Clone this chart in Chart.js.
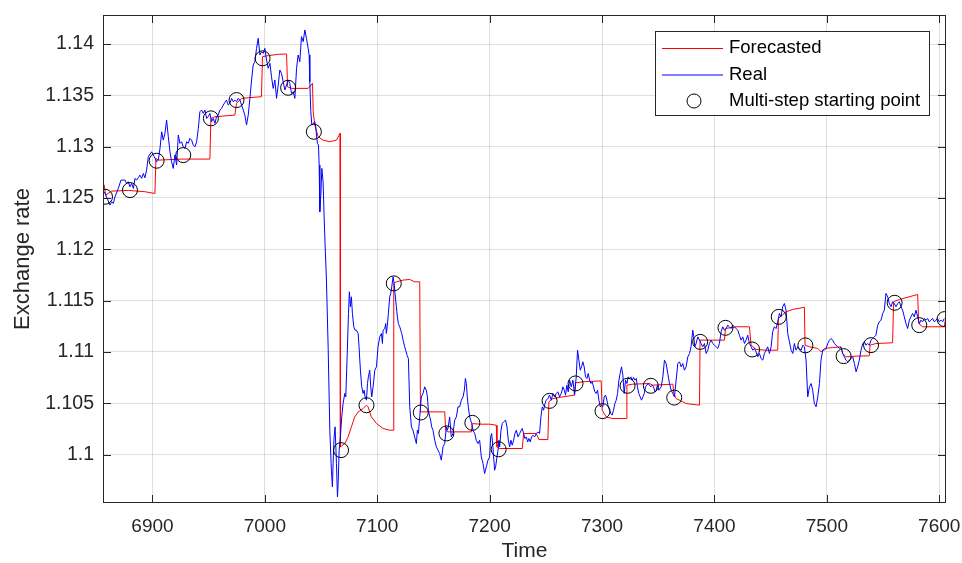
<!DOCTYPE html>
<html>
<head>
<meta charset="utf-8">
<script src="https://cdn.jsdelivr.net/npm/chart.js@4.4.1/dist/chart.umd.min.js"></script>
<style>
  html, body { margin: 0; padding: 0; background: #fff; }
  #wrap { width: 962px; height: 563px; }
</style>
</head>
<body>
<div id="wrap"><canvas id="chart" width="962" height="563"></canvas></div>
<script>
// axis ticks
const timeTicks = [6900, 7000, 7100, 7200, 7300, 7400, 7500, 7600];
const rateTicks = [1.1, 1.105, 1.11, 1.115, 1.12, 1.125, 1.13, 1.135, 1.14];

// real series (time, rate)
const realTime = [
  6857.2,6862.2,6863.7,6865.2,6866.7,6869.6,6872.0,6875.6,6877.0,6878.5,6880.0,6881.5,6883.0,6884.5,6885.9,6887.4,
  6888.9,6890.4,6891.9,6893.3,6894.8,6896.3,6899.3,6901.6,6903.7,6905.2,6906.7,6908.2,6909.6,6911.1,6912.6,6914.1,
  6915.6,6917.0,6918.5,6920.0,6921.5,6923.0,6924.5,6925.9,6927.4,6928.9,6930.4,6931.9,6933.3,6934.8,6936.3,6937.8,
  6939.3,6940.8,6942.2,6943.7,6945.2,6946.7,6948.2,6949.6,6951.1,6952.6,6954.1,6955.6,6957.0,6958.5,6960.0,6961.5,
  6963.0,6964.5,6965.9,6967.4,6968.9,6970.4,6971.9,6973.3,6974.8,6976.3,6977.8,6979.3,6980.8,6982.2,6983.7,6985.2,
  6986.7,6988.2,6989.6,6991.1,6992.6,6994.1,6995.6,6997.0,6998.5,7000.0,7001.5,7003.0,7004.5,7005.9,7007.4,7008.9,
  7010.4,7011.9,7013.3,7014.8,7016.3,7017.8,7019.3,7020.7,7022.2,7023.7,7025.2,7026.7,7028.2,7029.6,7031.1,7032.6,
  7034.1,7035.6,7037.0,7038.5,7039.4,7040.0,7040.9,7041.8,7042.9,7044.4,7045.3,7045.9,7046.8,7047.7,7048.3,7048.9,
  7049.8,7050.7,7051.8,7052.7,7053.6,7054.8,7056.3,7057.8,7059.2,7060.1,7060.7,7061.6,7062.5,7063.7,7064.6,7065.2,
  7066.1,7067.2,7068.4,7069.6,7071.1,7072.0,7073.2,7074.4,7075.2,7076.1,7077.0,7077.9,7079.1,7080.3,7081.5,7083.0,
  7083.8,7085.0,7086.2,7087.4,7088.3,7089.2,7090.4,7091.3,7092.1,7093.3,7094.2,7095.1,7096.3,7097.8,7099.3,7100.7,
  7102.2,7103.7,7104.6,7105.2,7106.7,7107.5,7108.1,7109.0,7109.9,7111.1,7112.0,7112.9,7114.1,7115.0,7115.8,7117.0,
  7117.9,7118.8,7120.0,7120.9,7121.8,7123.0,7124.4,7125.3,7126.5,7127.7,7128.9,7130.4,7131.8,7133.3,7134.8,7135.7,
  7136.6,7137.8,7139.2,7140.7,7142.2,7143.7,7144.6,7145.5,7146.7,7147.5,7148.4,7149.6,7151.1,7152.6,7154.1,7155.5,
  7157.0,7158.5,7160.0,7161.5,7162.4,7163.2,7164.4,7165.9,7167.4,7168.9,7170.4,7171.8,7173.3,7174.8,7176.3,7177.5,
  7178.4,7179.3,7180.1,7181.0,7182.2,7183.1,7184.0,7185.2,7186.7,7188.1,7189.6,7191.1,7192.6,7194.1,7195.5,7197.0,
  7198.5,7200.0,7200.9,7201.8,7202.9,7204.4,7205.3,7206.5,7207.4,7208.3,7208.9,7210.1,7211.2,7212.4,7214.2,7215.4,
  7216.6,7217.8,7218.9,7220.1,7221.3,7222.5,7223.7,7225.2,7226.7,7228.1,7229.0,7230.2,7231.4,7232.6,7233.8,7234.9,
  7236.1,7237.3,7238.5,7240.0,7241.5,7242.9,7244.4,7245.6,7246.8,7248.0,7249.2,7250.4,7251.8,7253.3,7254.8,7256.3,
  7257.8,7259.2,7260.7,7262.2,7263.7,7265.2,7266.4,7267.5,7268.7,7269.9,7271.1,7272.6,7274.1,7275.5,7277.0,7278.2,
  7279.4,7280.6,7281.8,7282.9,7284.1,7285.3,7286.5,7287.7,7288.9,7290.1,7291.3,7292.4,7293.6,7294.8,7296.0,7297.2,
  7298.4,7299.5,7300.7,7301.9,7303.1,7304.3,7305.5,7306.7,7307.8,7309.0,7310.2,7311.4,7312.6,7313.8,7315.0,7316.1,
  7317.3,7318.5,7319.7,7320.9,7322.1,7323.3,7324.4,7325.6,7326.8,7328.0,7329.2,7330.4,7331.5,7332.7,7333.9,7335.1,
  7336.3,7337.5,7338.7,7339.8,7341.0,7342.2,7343.4,7344.6,7345.8,7347.0,7348.1,7349.3,7350.5,7352.6,7354.1,7355.5,
  7357.0,7358.5,7360.0,7361.5,7362.9,7364.4,7365.9,7367.4,7368.9,7370.4,7371.8,7373.3,7374.8,7376.3,7377.8,7379.2,
  7380.7,7381.6,7382.5,7383.7,7385.2,7386.7,7388.1,7389.6,7391.1,7392.6,7394.1,7395.5,7397.0,7398.5,7400.0,7401.5,
  7403.0,7404.4,7405.9,7407.4,7408.9,7410.4,7411.8,7413.3,7414.8,7416.3,7417.8,7419.3,7420.7,7422.2,7423.7,7425.2,
  7426.7,7428.1,7429.6,7431.1,7432.6,7434.1,7435.5,7437.0,7438.5,7440.0,7441.5,7443.0,7444.4,7445.9,7447.4,7448.9,
  7450.4,7451.8,7453.3,7454.8,7456.3,7457.8,7459.2,7460.7,7462.2,7463.7,7465.2,7466.7,7468.2,7469.7,7471.1,7472.6,
  7474.1,7475.6,7477.1,7478.6,7480.0,7481.5,7483.0,7484.5,7486.0,7487.4,7488.9,7490.4,7491.9,7493.4,7494.8,7496.3,
  7497.8,7499.3,7500.8,7502.3,7503.7,7505.2,7506.7,7508.2,7509.7,7511.1,7512.6,7514.1,7515.6,7517.1,7518.5,7520.0,
  7521.5,7523.0,7524.5,7526.0,7527.4,7528.9,7530.4,7531.9,7533.4,7534.8,7536.3,7537.8,7539.3,7540.8,7542.3,7543.7,
  7545.2,7546.7,7548.2,7549.7,7551.1,7552.6,7554.1,7555.6,7557.1,7558.5,7560.0,7561.5,7563.0,7564.5,7566.0,7567.4,
  7568.9,7570.4,7571.9,7573.4,7574.8,7576.3,7577.8,7579.3,7580.8,7582.3,7583.7,7585.2,7586.7,7588.2,7589.7,7591.1,
  7592.6,7594.1,7595.6,7597.1,7598.5,7600.0,7601.5,7603.0,7604.5
];
const realRate = [
  1.12561,1.12431,1.12463,1.12447,1.12512,1.12593,1.12674,1.12674,1.12642,1.12658,1.12609,1.12642,1.12593,1.12691,1.12674,1.12697,
  1.12723,1.12691,1.12739,1.12697,1.12772,1.12902,1.12950,1.12902,1.12853,1.12869,1.12983,1.13145,1.13064,1.13129,1.13259,1.13097,
  1.12950,1.12853,1.12788,1.12918,1.12821,1.13113,1.13032,1.13048,1.12999,1.12983,1.13048,1.13032,1.13081,1.13064,1.13016,1.12999,
  1.13048,1.13178,1.13340,1.13357,1.13324,1.13357,1.13275,1.13292,1.13324,1.13243,1.13275,1.13227,1.13292,1.13308,1.13357,1.13373,
  1.13406,1.13432,1.13454,1.13406,1.13422,1.13471,1.13438,1.13454,1.13438,1.13471,1.13454,1.13406,1.13357,1.13308,1.13211,1.13308,
  1.13471,1.13649,1.13796,1.13828,1.13958,1.14056,1.13893,1.13926,1.13909,1.13958,1.13844,1.13763,1.13812,1.13682,1.13568,1.13649,
  1.13471,1.13601,1.13747,1.13714,1.13633,1.13552,1.13601,1.13649,1.13617,1.13519,1.13536,1.13471,1.13763,1.13893,1.13828,1.14072,
  1.14023,1.14137,1.14056,1.13958,1.13893,1.13633,1.13341,1.13211,1.13227,1.13243,1.13194,1.13113,1.13032,1.13016,1.12821,1.12366,
  1.12528,1.12788,1.12658,1.12333,1.12041,1.11700,1.11050,1.10237,1.09847,1.09685,1.09912,1.10172,1.10270,1.09912,1.09587,1.09717,
  1.10042,1.10172,1.10367,1.10497,1.10595,1.10562,1.10952,1.11375,1.11586,1.11440,1.11537,1.11375,1.11245,1.11212,1.11212,1.11180,
  1.11050,1.10822,1.10660,1.10595,1.10627,1.10562,1.10530,1.10692,1.10757,1.10822,1.10660,1.10562,1.10660,1.10822,1.10855,1.11050,
  1.11147,1.11180,1.11082,1.11212,1.11228,1.11277,1.11180,1.11261,1.11375,1.11537,1.11570,1.11635,1.11732,1.11667,1.11570,1.11440,
  1.11342,1.11277,1.11245,1.11212,1.11180,1.11115,1.11050,1.11017,1.10968,1.10936,1.10465,1.10270,1.10237,1.10172,1.10107,1.10237,
  1.10205,1.10367,1.10562,1.10595,1.10660,1.10627,1.10562,1.10432,1.10367,1.10335,1.10270,1.10237,1.10140,1.10075,1.10042,1.10010,
  1.09945,1.10075,1.10107,1.10270,1.10237,1.10270,1.10367,1.10172,1.10205,1.10335,1.10367,1.10465,1.10465,1.10530,1.10562,1.10627,
  1.10741,1.10692,1.10562,1.10465,1.10367,1.10335,1.10302,1.10237,1.10205,1.10140,1.10107,1.10140,1.09977,1.09912,1.09815,1.09880,
  1.09945,1.09977,1.10172,1.10205,1.10075,1.09847,1.09880,1.09977,1.10042,1.10140,1.10075,1.10237,1.10302,1.10318,1.10335,1.10270,
  1.10140,1.10075,1.10140,1.10091,1.10140,1.10205,1.10237,1.10172,1.10205,1.10237,1.10254,1.10205,1.10156,1.10172,1.10123,1.10156,
  1.10123,1.10172,1.10189,1.10172,1.10205,1.10221,1.10205,1.10367,1.10465,1.10432,1.10497,1.10530,1.10546,1.10579,1.10530,1.10595,
  1.10562,1.10595,1.10611,1.10562,1.10595,1.10660,1.10627,1.10579,1.10676,1.10611,1.10725,1.10660,1.10725,1.10579,1.10757,1.11017,
  1.10920,1.10822,1.10855,1.10904,1.10855,1.10757,1.10741,1.10790,1.10725,1.10692,1.10709,1.10660,1.10611,1.10595,1.10627,1.10530,
  1.10465,1.10481,1.10465,1.10562,1.10579,1.10530,1.10465,1.10432,1.10400,1.10384,1.10432,1.10497,1.10530,1.10595,1.10725,1.10790,
  1.10855,1.10774,1.10595,1.10725,1.10692,1.10757,1.10741,1.10757,1.10725,1.10751,1.10725,1.10741,1.10660,1.10595,1.10562,1.10530,
  1.10562,1.10595,1.10660,1.10676,1.10692,1.10676,1.10660,1.10676,1.10660,1.10611,1.10627,1.10676,1.10627,1.10660,1.10757,1.10920,
  1.10887,1.10790,1.10692,1.10627,1.10595,1.10562,1.10725,1.10887,1.10904,1.10855,1.10887,1.10822,1.10855,1.10952,1.10985,1.11050,
  1.11212,1.11147,1.11050,1.11082,1.11147,1.11115,1.11082,1.11050,1.11082,1.10985,1.11017,1.11082,1.11115,1.11082,1.11066,1.11050,
  1.11034,1.11082,1.11196,1.11245,1.11212,1.11228,1.11261,1.11245,1.11228,1.11261,1.11245,1.11228,1.11212,1.11163,1.11115,1.11147,
  1.11082,1.11115,1.11163,1.11082,1.11050,1.11017,1.11034,1.11001,1.10952,1.10985,1.10936,1.10920,1.10985,1.11017,1.11050,1.10985,
  1.11050,1.11196,1.11245,1.11228,1.11293,1.11375,1.11342,1.11440,1.11472,1.11407,1.11180,1.11098,1.11017,1.10985,1.11082,1.11017,
  1.11050,1.11034,1.11017,1.11066,1.11050,1.10920,1.10562,1.10660,1.10692,1.10627,1.10497,1.10465,1.10562,1.10692,1.10920,1.11017,
  1.11017,1.11034,1.11082,1.11115,1.11131,1.11115,1.11082,1.11066,1.11050,1.11034,1.11043,1.10985,1.10952,1.10920,1.10904,1.10920,
  1.10936,1.10952,1.10887,1.10806,1.10855,1.10920,1.11017,1.11082,1.11098,1.11066,1.11082,1.11066,1.11115,1.11131,1.11147,1.11163,
  1.11261,1.11293,1.11310,1.11375,1.11407,1.11570,1.11537,1.11472,1.11440,1.11489,1.11472,1.11440,1.11472,1.11489,1.11440,1.11407,
  1.11342,1.11277,1.11228,1.11310,1.11342,1.11375,1.11342,1.11407,1.11342,1.11277,1.11310,1.11293,1.11326,1.11310,1.11326,1.11293,
  1.11310,1.11326,1.11293,1.11310,1.11326,1.11293,1.11310,1.11293,1.11326
];

// forecasted series (time, rate)
const forecastTime = [
  6857.0,6858.4,6863.7,6878.5,6893.3,6902.2,6903.1,6905.2,6925.9,6951.1,6952.0,6955.6,6973.3,6974.8,6979.3,6997.0,
  6997.9,7003.0,7011.9,7019.3,7020.2,7023.7,7038.5,7042.4,7043.0,7044.4,7047.4,7051.8,7057.8,7063.7,7066.1,7066.9,
  7067.2,7071.1,7074.1,7077.0,7080.0,7083.0,7087.4,7090.4,7091.8,7094.8,7099.3,7105.2,7111.1,7114.1,7114.7,7117.0,
  7123.0,7128.9,7133.3,7137.8,7138.4,7143.7,7160.0,7160.9,7162.9,7183.7,7184.6,7191.1,7200.0,7205.9,7206.5,7208.9,
  7229.0,7230.2,7241.5,7243.8,7251.8,7252.7,7256.3,7265.2,7275.5,7276.4,7282.9,7299.2,7300.1,7303.7,7309.6,7321.5,
  7322.1,7327.4,7342.2,7345.2,7363.0,7363.8,7365.9,7374.8,7386.7,7387.2,7395.5,7408.9,7409.8,7419.3,7431.1,7432.6,
  7437.0,7445.9,7456.3,7456.9,7463.7,7469.6,7480.0,7480.6,7484.5,7491.9,7494.8,7497.8,7505.2,7512.6,7514.1,7517.1,
  7526.0,7537.8,7538.4,7543.7,7558.5,7559.4,7564.5,7580.8,7581.7,7585.2,7604.5,7605.4
];
const forecastRate = [
  1.12630,1.12528,1.12567,1.12574,1.12561,1.12544,1.12886,1.12869,1.12879,1.12879,1.13275,1.13292,1.13308,1.13422,1.13471,1.13487,
  1.13877,1.13887,1.13900,1.13903,1.13584,1.13568,1.13568,1.13617,1.13341,1.13211,1.13097,1.13064,1.13048,1.13064,1.13113,1.13130,
  1.10075,1.10107,1.10172,1.10270,1.10367,1.10416,1.10448,1.10481,1.10465,1.10367,1.10302,1.10254,1.10237,1.10237,1.11667,1.11683,
  1.11700,1.11706,1.11683,1.11683,1.10416,1.10416,1.10416,1.10237,1.10221,1.10221,1.10302,1.10296,1.10296,1.10286,1.10075,1.10059,
  1.10059,1.10205,1.10205,1.10146,1.10146,1.10514,1.10546,1.10562,1.10579,1.10699,1.10709,1.10718,1.10432,1.10367,1.10351,1.10351,
  1.10676,1.10686,1.10692,1.10676,1.10686,1.10595,1.10546,1.10497,1.10481,1.11115,1.11115,1.11115,1.11228,1.11245,1.11245,1.11066,
  1.11024,1.11017,1.11017,1.11326,1.11391,1.11414,1.11435,1.11066,1.11050,1.11034,1.11001,1.11034,1.11043,1.11050,1.10985,1.10952,
  1.10959,1.10962,1.11066,1.11082,1.11089,1.11489,1.11511,1.11560,1.11277,1.11245,1.11245,1.11310
];

// multi-step starting points
const startTime = [
  6857.8,6880.0,6903.7,6927.4,6952.0,6974.8,6998.0,7020.7,7043.6,7067.8,7090.4,7114.7,7138.7,7161.5,7184.6,7208.0,
  7253.3,7276.4,7300.4,7322.7,7343.4,7364.2,7387.3,7409.8,7433.5,7457.2,7480.9,7514.9,7539.3,7560.3,7582.2,7604.7
];
const startRate = [
  1.12512,1.12577,1.12863,1.12918,1.13276,1.13454,1.13861,1.13574,1.13145,1.10043,1.10481,1.11668,1.10410,1.10206,1.10309,1.10051,
  1.10523,1.10693,1.10423,1.10670,1.10670,1.10555,1.11098,1.11235,1.11024,1.11342,1.11064,1.10959,1.11066,1.11479,1.11261,1.11320
];

const FONT = "'Liberation Sans', Arial, Helvetica, sans-serif";
const AXIS_COLOR = '#262626';

function pts(xs, ys) {
  return xs.map((x, i) => ({ x: x, y: ys[i] }));
}

// no extra padding for edge labels, keep the plot box fixed
function noPad(s) {
  s.paddingLeft = 0; s.paddingRight = 0;
  s.paddingTop = 0; s.paddingBottom = 0;
}

// box round the axes + inward tick marks (like matlab)
const axesBox = {
  id: 'axesBox',
  afterDatasetsDraw(chart) {
    const { ctx, chartArea: a, scales } = chart;
    const L = 8;
    ctx.save();
    ctx.strokeStyle = AXIS_COLOR;
    ctx.lineWidth = 1;
    ctx.beginPath();
    scales.x.ticks.forEach(t => {
      const px = Math.round(scales.x.getPixelForValue(t.value)) + 0.5;
      ctx.moveTo(px, a.bottom); ctx.lineTo(px, a.bottom - L);
      ctx.moveTo(px, a.top); ctx.lineTo(px, a.top + L);
    });
    scales.y.ticks.forEach(t => {
      const py = Math.round(scales.y.getPixelForValue(t.value)) + 0.5;
      ctx.moveTo(a.left, py); ctx.lineTo(a.left + L, py);
      ctx.moveTo(a.right, py); ctx.lineTo(a.right - L, py);
    });
    ctx.stroke();
    ctx.strokeRect(Math.round(a.left) + 0.5, Math.round(a.top) + 0.5,
                   Math.round(a.right - a.left) - 1, Math.round(a.bottom - a.top) - 1);
    ctx.restore();
  }
};

// legend box top right
const legendBox = {
  id: 'legendBox',
  afterDraw(chart) {
    const ctx = chart.ctx;
    const bx = 655.5, by = 31.5, bw = 274, bh = 84;
    ctx.save();
    ctx.fillStyle = '#fff';
    ctx.fillRect(bx, by, bw, bh);
    ctx.strokeStyle = AXIS_COLOR;
    ctx.lineWidth = 1;
    ctx.strokeRect(bx, by, bw, bh);
    ctx.font = '18.5px ' + FONT;
    ctx.textBaseline = 'middle';
    ctx.textAlign = 'left';
    chart.data.datasets.forEach((ds, i) => {
      const y = 48 + i * 26.5;
      if (ds.showLine === false) {
        ctx.beginPath();
        ctx.arc(694, y, 7, 0, Math.PI * 2);
        ctx.strokeStyle = ds.borderColor;
        ctx.stroke();
      } else {
        ctx.beginPath();
        ctx.moveTo(662, y + 0.5);
        ctx.lineTo(723, y + 0.5);
        ctx.strokeStyle = ds.borderColor;
        ctx.stroke();
      }
      ctx.fillStyle = '#000';
      ctx.fillText(ds.label, 729, y);
    });
    ctx.restore();
  }
};

new Chart(document.getElementById('chart'), {
  type: 'line',
  data: {
    datasets: [
      {
        label: 'Forecasted',
        data: pts(forecastTime, forecastRate),
        borderColor: '#ff0000',
        borderWidth: 1,
        pointRadius: 0,
        tension: 0,
        order: 3
      },
      {
        label: 'Real',
        data: pts(realTime, realRate),
        borderColor: '#0000ff',
        borderWidth: 1,
        pointRadius: 0,
        tension: 0,
        order: 2
      },
      {
        label: 'Multi-step starting point',
        data: pts(startTime, startRate),
        showLine: false,
        borderColor: '#000000',
        backgroundColor: 'rgba(0,0,0,0)',
        borderWidth: 1,
        pointStyle: 'circle',
        pointRadius: 7.5,
        order: 1
      }
    ]
  },
  options: {
    responsive: false,
    animation: false,
    devicePixelRatio: 1,
    layout: { padding: { top: 15, right: 16, left: 0, bottom: 0 } },
    plugins: {
      legend: { display: false },
      tooltip: { enabled: false }
    },
    scales: {
      x: {
        type: 'linear',
        min: 6856,
        max: 7606,
        afterBuildTicks: s => { s.ticks = timeTicks.map(v => ({ value: v })); },
        afterFit: s => { s.height = 60; noPad(s); },
        grid: { color: 'rgba(38,38,38,0.15)', drawTicks: false },
        border: { display: false },
        ticks: {
          padding: 12,
          color: AXIS_COLOR,
          maxRotation: 0,
          autoSkip: false,
          font: { family: FONT, size: 19 },
          callback: v => String(v)
        },
        title: {
          display: true,
          text: 'Time',
          color: AXIS_COLOR,
          font: { family: FONT, size: 21, lineHeight: 1.1 },
          padding: { top: 0, bottom: 0 }
        }
      },
      y: {
        type: 'linear',
        min: 1.09528,
        max: 1.14283,
        afterBuildTicks: s => { s.ticks = rateTicks.map(v => ({ value: v })); },
        afterFit: s => { s.width = 103; noPad(s); },
        grid: { color: 'rgba(38,38,38,0.15)', drawTicks: false },
        border: { display: false },
        ticks: {
          padding: 9,
          color: AXIS_COLOR,
          autoSkip: false,
          font: { family: FONT, size: 19.5 },
          callback: v => String(v)
        },
        title: {
          display: true,
          text: 'Exchange rate',
          color: AXIS_COLOR,
          font: { family: FONT, size: 22, lineHeight: 1.2 },
          padding: { top: 10, bottom: 0 }
        }
      }
    }
  },
  plugins: [axesBox, legendBox]
});
</script>
</body>
</html>
